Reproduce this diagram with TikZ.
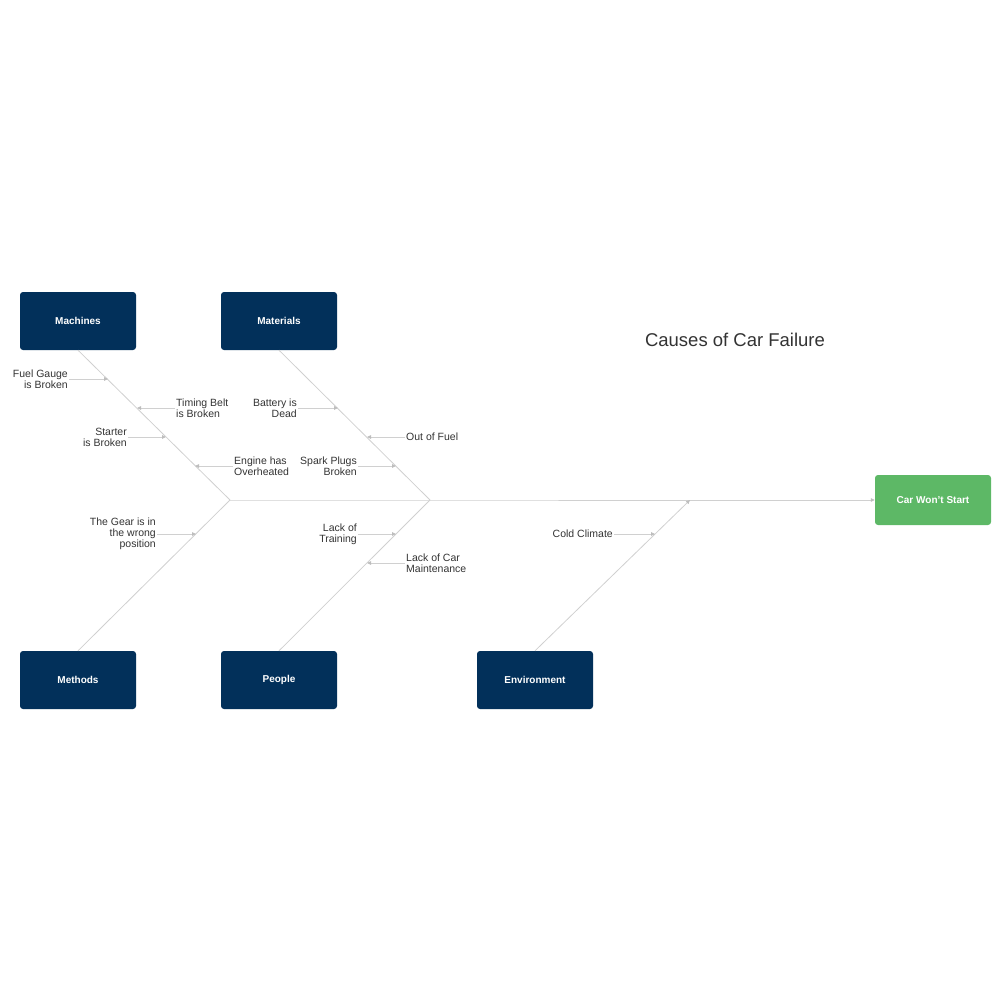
\documentclass[tikz,border=0pt]{standalone}
\usepackage{fontspec}
\setmainfont{Liberation Sans}
\usetikzlibrary{arrows.meta}
\definecolor{navy}{HTML}{02305A}
\definecolor{okgreen}{HTML}{5DB866}
\definecolor{bonegray}{HTML}{D0D0D0}
\definecolor{tipgray}{HTML}{BDBDBD}
\definecolor{txt}{HTML}{333333}

\begin{document}
\begin{tikzpicture}[x=1pt,y=-1pt,
  cat/.style={fill=navy, rounded corners=3pt, minimum width=116pt, minimum height=58pt,
    text=white, font=\fontsize{10}{12}\selectfont\bfseries},
  cause/.style={text=txt, inner sep=1pt, font=\fontsize{10.5}{11}\selectfont},
  boneline/.style={draw=bonegray, line width=0.8pt},
  sub/.style={draw=bonegray, line width=0.8pt, -{Triangle[length=4pt,width=3.5pt,color=tipgray]}}]
\useasboundingbox (0,0) rectangle (1000,1000);

\node[cat] (mach) at (78,321) {Machines};
\node[cat] (matl) at (279,321) {Materials};
\node[cat] (meth) at (78,680) {Methods};
\node[cat] (ppl) at (279,680) {People};
\node[cat] (env) at (535,680) {Environment};
\node[cat, fill=okgreen, minimum height=50pt] (eff) at (933,500) {Car Won't Start};

\node[text=txt, font=\fontsize{18.5}{20}\selectfont] (title) at (735,340) {Causes of Car Failure};

% spine
\coordinate (j1) at (230,500);
\coordinate (j2) at (430,500);
\coordinate (j3) at (690,500);
\draw[boneline] (j1) -- (j2) -- (j3);
\draw[sub] (j3) -- (eff);

% branches
\draw[boneline] (mach.south) -- (j1);
\draw[boneline] (meth.north) -- (j1);
\draw[boneline] (matl.south) -- (j2);
\draw[boneline] (ppl.north) -- (j2);
\draw[sub] (env.north) -- (j3);

% machines
\node[cause, anchor=east, align=right] (fuel) at (69,379) {Fuel Gauge\\is Broken};
\coordinate (fuelP) at (108,379);
\draw[sub] (fuel) -- (fuelP);
\node[cause, anchor=west, align=left] (belt) at (175,408) {Timing Belt\\is Broken};
\coordinate (beltP) at (137,408);
\draw[sub] (belt) -- (beltP);
\node[cause, anchor=east, align=right] (start) at (128,437) {Starter\\is Broken};
\coordinate (startP) at (166,437);
\draw[sub] (start) -- (startP);
\node[cause, anchor=west, align=left] (heat) at (233,466) {Engine has\\Overheated};
\coordinate (heatP) at (195,466);
\draw[sub] (heat) -- (heatP);

% materials
\node[cause, anchor=east, align=right] (batt) at (298,408) {Battery is\\Dead};
\coordinate (battP) at (338,408);
\draw[sub] (batt) -- (battP);
\node[cause, anchor=west, align=left] (fuelout) at (405,437) {Out of Fuel};
\coordinate (fueloutP) at (367,437);
\draw[sub] (fuelout) -- (fueloutP);
\node[cause, anchor=east, align=right] (spark) at (358,466) {Spark Plugs\\Broken};
\coordinate (sparkP) at (396,466);
\draw[sub] (spark) -- (sparkP);

% methods
\node[cause, anchor=east, align=right] (gear) at (157,534) {The Gear is in\\the wrong\\position};
\coordinate (gearP) at (196,534);
\draw[sub] (gear) -- (gearP);

% people
\node[cause, anchor=east, align=right] (train) at (358,534) {Lack of\\Training};
\coordinate (trainP) at (396,534);
\draw[sub] (train) -- (trainP);
\node[cause, anchor=west, align=left] (maint) at (405,563) {Lack of Car\\Maintenance};
\coordinate (maintP) at (367,563);
\draw[sub] (maint) -- (maintP);

% environment
\node[cause, anchor=east] (cold) at (614,534) {Cold Climate};
\coordinate (coldP) at (655,534);
\draw[sub] (cold) -- (coldP);
\end{tikzpicture}
\end{document}
